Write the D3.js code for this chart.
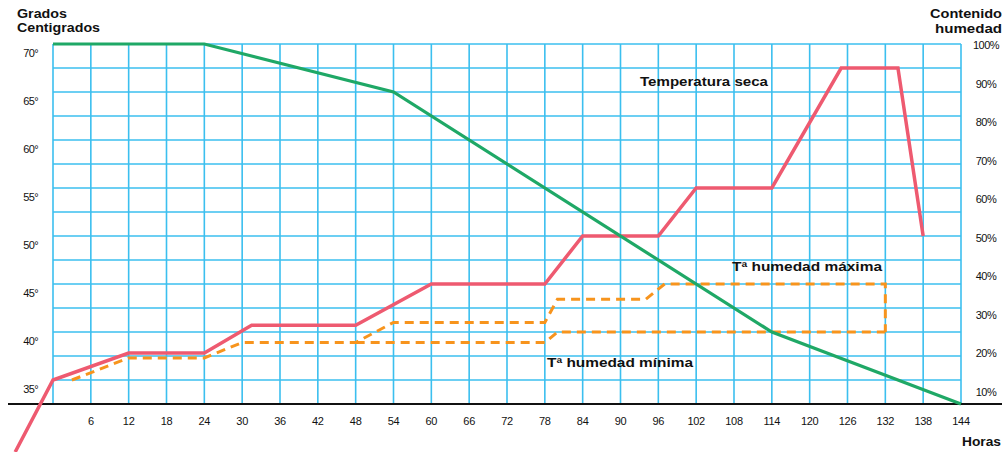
<!DOCTYPE html>
<html><head><meta charset="utf-8">
<script src="https://cdn.jsdelivr.net/npm/d3@7"></script>
<style>
html,body{margin:0;padding:0;background:#fff;}
svg{display:block;font-family:"Liberation Sans",Arial,sans-serif;}
</style></head>
<body>
<svg id="c" width="1004" height="452"></svg>
<script>
// ---- data ----
const hourTicks = [6,12,18,24,30,36,42,48,54,60,66,72,78,84,90,96,102,108,114,120,126,132,138,144];
const tempTicks = [70,65,60,55,50,45,40,35];
const humTicks = [100,90,80,70,60,50,40,30,20,10];
// Temperatura seca (hours, degrees)
const secaHours = [-6,0,12,24,31.5,48,60,78,84,96,102,114,125,134,138];
const secaTemp  = [27.5,35,37.8,37.8,40.7,40.7,45,45,50,50,55,55,67.5,67.5,50];
// green curve (drying temperature / humidity content)
const greenHours = [0,24,54,114,144];
const greenTemp  = [70,70,65,40,32.5];
// Tª humedad máxima
const maxHours = [3,12,24,30,48,54,78,80,94,97,132,132];
const maxTemp  = [35,37.3,37.3,38.9,38.9,41,41,43.4,43.4,45,45,40];
// Tª humedad mínima
const minHours = [48,78,80,132];
const minTemp  = [38.9,38.9,40,40];

// ---- scales ----
const svg = d3.select("#c");
const x = d3.scaleLinear().domain([0,144]).range([53,961]);
const y = d3.scaleLinear().domain([32.5,70]).range([404,44]);
const yH = d3.scaleLinear().domain([10,100]).range([392,45]);

const GRID = "#3bbfef";
// grid
const gridH = d3.range(35, 70.01, 2.5);
svg.append("g").selectAll("line").data(gridH).join("line")
  .attr("x1", x(0)).attr("x2", x(144))
  .attr("y1", d => y(d)).attr("y2", d => y(d))
  .attr("stroke", GRID).attr("stroke-width", 1.6);
const gridV = d3.range(0, 144.01, 6);
svg.append("g").selectAll("line").data(gridV).join("line")
  .attr("x1", d => x(d)).attr("x2", d => x(d))
  .attr("y1", y(70)).attr("y2", y(32.5))
  .attr("stroke", GRID).attr("stroke-width", 1.6);

// base axis line
svg.append("line").attr("x1", 8).attr("x2", 1002)
  .attr("y1", y(32.5)).attr("y2", y(32.5))
  .attr("stroke", "#111").attr("stroke-width", 2);

const line = d3.line().x(d => x(d[0])).y(d => y(d[1]));
const zip = (a, b) => a.map((v, i) => [v, b[i]]);

// dashed humidity lines
svg.append("path").datum(zip(minHours, minTemp)).attr("d", line)
  .attr("fill", "none").attr("stroke", "#f7941d").attr("stroke-width", 3)
  .attr("stroke-dasharray", "9,6");
svg.append("path").datum(zip(maxHours, maxTemp)).attr("d", line)
  .attr("fill", "none").attr("stroke", "#f7941d").attr("stroke-width", 3)
  .attr("stroke-dasharray", "9,6");

// red line
svg.append("path").datum(zip(secaHours, secaTemp)).attr("d", line)
  .attr("fill", "none").attr("stroke", "#ee5a70").attr("stroke-width", 3.5)
  .attr("stroke-linejoin", "miter");
// green line
svg.append("path").datum(zip(greenHours, greenTemp)).attr("d", line)
  .attr("fill", "none").attr("stroke", "#1fa866").attr("stroke-width", 3.2);

// tick labels
svg.append("g").selectAll("text").data(hourTicks).join("text")
  .attr("x", d => x(d)).attr("y", 425).attr("text-anchor", "middle")
  .attr("font-size", 11).attr("letter-spacing", -0.3).attr("fill", "#111")
  .text(d => d);
svg.append("g").selectAll("text").data(tempTicks).join("text")
  .attr("x", 38).attr("y", d => y(d) + 13).attr("text-anchor", "end")
  .attr("font-size", 11).attr("letter-spacing", -0.6).attr("fill", "#111")
  .text(d => d + "°");
svg.append("g").selectAll("text").data(humTicks).join("text")
  .attr("x", 986).attr("y", d => yH(d) + 4).attr("text-anchor", "middle")
  .attr("font-size", 11).attr("letter-spacing", -0.5).attr("fill", "#111")
  .text(d => d + "%");

// titles
function label(t, xx, yy, w, anchor) {
  svg.append("text").attr("x", xx).attr("y", yy)
    .attr("text-anchor", anchor || "start")
    .attr("font-size", 12).attr("font-weight", "bold").attr("fill", "#111")
    .attr("textLength", w).attr("lengthAdjust", "spacingAndGlyphs")
    .text(t);
}
label("Grados", 17, 18, 50);
label("Centigrados", 17, 32, 83);
label("Contenido", 930, 18, 72);
label("humedad", 935, 33, 67);
label("Horas", 962, 446, 39);
label("Temperatura seca", 640, 86, 128);
label("Tª humedad máxima", 732, 271, 150);
label("Tª humedad mínima", 547, 367, 146);
</script>
</body></html>
